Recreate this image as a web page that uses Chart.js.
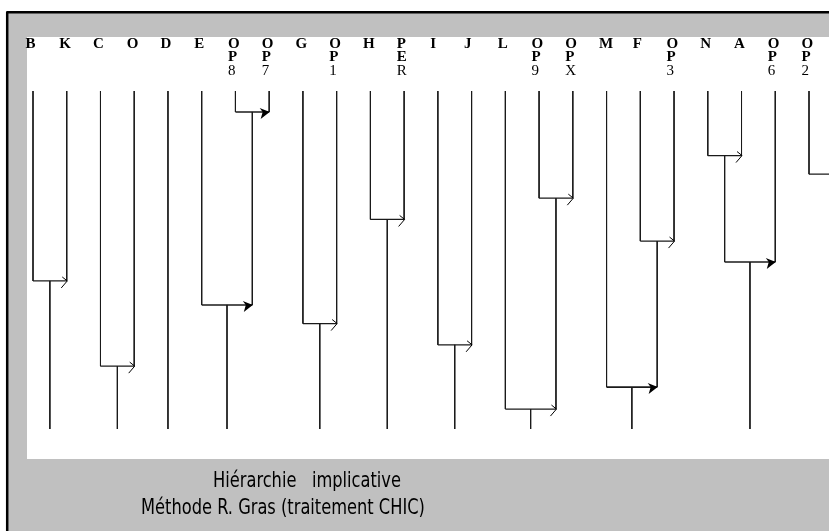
<!DOCTYPE html>
<html>
<head>
<meta charset="utf-8">
<script src="https://cdn.jsdelivr.net/npm/chart.js@4"></script>
<style>
  body { margin: 0; background: #fff; }
  canvas { display: block; }
</style>
</head>
<body>
<canvas id="hierChart" width="829" height="531"></canvas>
<script>
// variables (leaves), left to right
const labels = ['B', 'K', 'C', 'O', 'D', 'E', 'OP8', 'OP7', 'G', 'OP1', 'H', 'PER',
                'I', 'J', 'L', 'OP9', 'OPX', 'M', 'F', 'OP3', 'N', 'A', 'OP6', 'OP2'];

// implicative links: node ids 0..23 are leaves, link k makes node 24+k
// null target = partner off the right edge of the picture
const linkFrom   = [0, 2, 6, 5, 8, 10, 12, 15, 14, 18, 17, 20, 35, 23];
const linkTo     = [1, 3, 7, 26, 9, 11, 13, 16, 31, 19, 33, 21, 22, null];
const linkLevel  = [56.2, 81.4, 6.2, 63.3, 68.8, 38.0, 75.1, 31.7, 94.1, 44.4, 87.6, 19.1, 50.6, 24.6];
const linkStrong = [false, false, true, true, false, false, false, false, false, false, true, false, true, false];

const titleLines = ['Hiérarchie   implicative', 'Méthode R. Gras (traitement CHIC)'];

const nLeaves = labels.length;
const offRight = nLeaves + 1;

// node positions and levels
const nodeX = labels.map((l, i) => i);
const nodeTop = labels.map(() => 0);
const nodeBottom = [];
linkFrom.forEach((f, k) => {
    const t = linkTo[k];
    const xt = t === null ? offRight : nodeX[t];
    nodeX.push((nodeX[f] + xt) / 2);
    nodeTop.push(linkLevel[k]);
    nodeBottom[f] = linkLevel[k];
    if (t !== null) nodeBottom[t] = linkLevel[k];
});

const segments = [];
for (let n = 0; n < nodeX.length; n++) {
    const k = n - nLeaves;
    if (k >= 0 && linkTo[k] === null) continue; // partner not in view
    const bottom = nodeBottom[n] !== undefined ? nodeBottom[n] : 100;
    segments.push({ data: [{ x: nodeX[n], y: nodeTop[n] }, { x: nodeX[n], y: bottom }], width: 1 });
}
linkFrom.forEach((f, k) => {
    const t = linkTo[k];
    const xt = t === null ? offRight : nodeX[t];
    segments.push({ data: [{ x: nodeX[f], y: linkLevel[k] }, { x: xt, y: linkLevel[k] }],
                    width: linkStrong[k] ? 1.6 : 1.2 });
});

const backgroundPlugin = {
    id: 'frame',
    beforeDraw(chart) {
        const c = chart.ctx;
        c.save();
        c.fillStyle = '#fff';
        c.fillRect(0, 0, 829, 531);
        c.fillStyle = '#c0c0c0';
        c.fillRect(7, 12, 822, 519);
        c.fillStyle = '#fff';
        c.fillRect(27, 37, 802, 422);
        c.strokeStyle = '#000';
        c.lineWidth = 2.5;
        c.lineJoin = 'round';
        c.beginPath();
        c.moveTo(7.2, 531);
        c.lineTo(7.2, 12.2);
        c.lineTo(829, 12.2);
        c.stroke();
        c.restore();
    },
    afterDraw(chart) {
        const c = chart.ctx;
        const xs = chart.scales.x;
        c.save();
        c.fillStyle = '#000';
        c.textAlign = 'left';
        c.textBaseline = 'alphabetic';
        const baselines = [48, 61, 75];
        labels.forEach((lab, i) => {
            const px = xs.getPixelForValue(i) - 7.5;
            [...lab].forEach((ch, j) => {
                c.font = j < 2 ? 'bold 15px "Liberation Serif", "Times New Roman", serif'
                               : '15px "Liberation Serif", "Times New Roman", serif';
                c.fillText(ch, px, baselines[j]);
            });
        });
        // narrow title lines, squeezed horizontally
        c.font = '21px "Liberation Sans Narrow", "DejaVu Sans Condensed", sans-serif';
        c.textAlign = 'center';
        c.save();
        c.scale(0.86, 1);
        c.fillText(titleLines[0], 307 / 0.86, 487);
        c.fillText(titleLines[1], 283 / 0.86, 514);
        c.restore();
        c.restore();
    }
};

const arrowPlugin = {
    id: 'arrows',
    afterDatasetsDraw(chart) {
        const c = chart.ctx;
        const xs = chart.scales.x, ys = chart.scales.y;
        c.save();
        c.strokeStyle = '#000';
        c.fillStyle = '#000';
        linkTo.forEach((t, k) => {
            if (t === null) return;
            const tx = xs.getPixelForValue(nodeX[t]) + 0.5;
            const ty = ys.getPixelForValue(linkLevel[k]);
            c.beginPath();
            if (linkStrong[k]) {
                c.moveTo(tx, ty);
                c.lineTo(tx - 10, ty - 4);
                c.lineTo(tx - 7, ty);
                c.lineTo(tx - 9, ty + 7);
                c.closePath();
                c.fill();
            } else {
                c.lineWidth = 1;
                c.moveTo(tx - 5, ty - 4);
                c.lineTo(tx, ty);
                c.lineTo(tx - 6, ty + 7);
                c.stroke();
            }
        });
        c.restore();
    }
};

const ctx = document.getElementById('hierChart').getContext('2d');
const hierChart = new Chart(ctx, {
    type: 'scatter',
    data: {
        datasets: segments.map(s => ({
            data: s.data,
            showLine: true,
            borderColor: '#1a1a1a',
            borderWidth: s.width,
            pointRadius: 0,
            clip: false
        }))
    },
    options: {
        responsive: false,
        animation: false,
        layout: { padding: { left: 33, right: 20, top: 91, bottom: 102 } },
        plugins: { legend: { display: false }, tooltip: { enabled: false } },
        scales: {
            x: { type: 'linear', min: 0, max: nLeaves - 1, display: false },
            y: { type: 'linear', min: 0, max: 100, reverse: true, display: false }
        }
    },
    plugins: [backgroundPlugin, arrowPlugin]
});
</script>
</body>
</html>
